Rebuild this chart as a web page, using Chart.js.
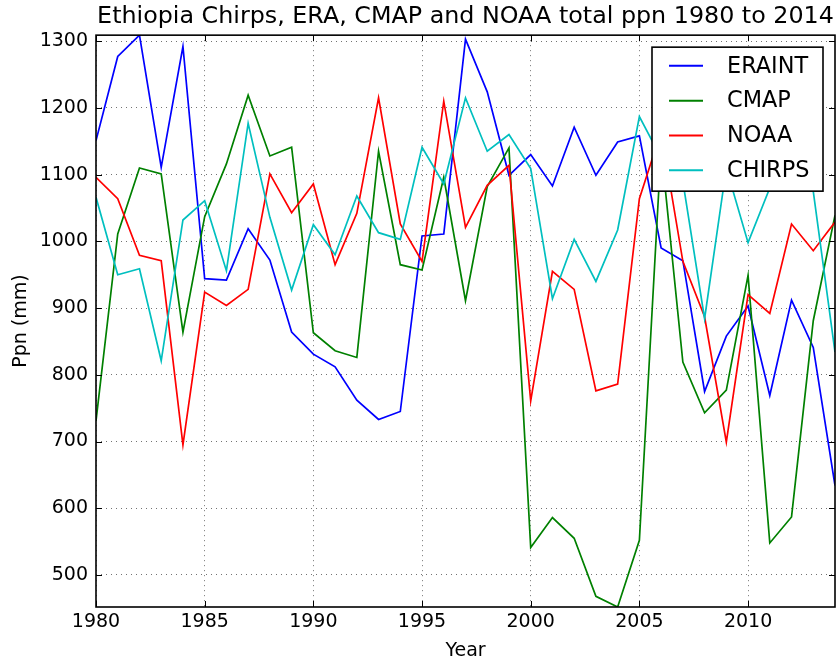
<!DOCTYPE html>
<html><head><meta charset="utf-8">
<script src="https://cdn.jsdelivr.net/npm/chart.js@4.4.0/dist/chart.umd.min.js"></script>
<style>html,body{margin:0;padding:0;background:#fff;}</style>
</head><body>
<canvas id="c" width="838" height="663"></canvas>
<script>
const years = [1980,1981,1982,1983,1984,1985,1986,1987,1988,1989,1990,1991,1992,1993,1994,1995,1996,1997,1998,1999,2000,2001,2002,2003,2004,2005,2006,2007,2008,2009,2010,2011,2012,2013,2014];
const eraint = [1151,1277,1309,1111,1292,944,942,1019,972,864,831,812,762,733,745,1008,1011,1303,1224,1099,1130,1083,1171,1099,1149,1158,990,971,775,858,903,769,912,841,634];
const cmap   = [731,1011,1110,1101,864,1037,1116,1219,1128,1141,863,836,826,1135,965,957,1096,911,1082,1140,541,586,555,468,452,552,1140,819,743,777,949,548,587,881,1039];
const noaa   = [1096,1064,979,971,695,924,904,928,1101,1043,1086,965,1042,1215,1026,970,1210,1021,1084,1114,761,955,928,776,786,1064,1165,970,887,699,920,892,1026,986,1029];
const chirps = [1066,950,959,821,1032,1061,956,1177,1036,927,1025,980,1068,1013,1003,1141,1086,1215,1135,1160,1109,914,1003,940,1017,1187,1125,1090,884,1110,998,1080,1110,1075,834];
const seriesNames = ['ERAINT','CMAP','NOAA','CHIRPS'];
const xTickValues = [1980,1985,1990,1995,2000,2005,2010];
const yTickValues = [500,600,700,800,900,1000,1100,1200,1300];
const titleText = 'Ethiopia Chirps, ERA, CMAP and NOAA total ppn 1980 to 2014';

const colors = ['rgb(0,0,255)','rgb(0,128,0)','rgb(255,0,0)','rgb(0,191,191)'];
const allVals = eraint.concat(cmap, noaa, chirps);
const yMin = Math.min(...allVals), yMax = Math.max(...allVals);
const FONT = 'DejaVu Sans';

function mk(vals){ return years.map((y,i)=>({x:y,y:vals[i]})); }
const seriesData = [eraint,cmap,noaa,chirps];
const datasets = seriesData.map((v,i)=>({
  label: seriesNames[i], data: mk(v), borderColor: colors[i], backgroundColor: colors[i],
  borderWidth: 1.7, pointRadius: 0, tension: 0, fill: false, order: 4-i
}));

const framePlugin = {
  id:'frame',
  afterDatasetsDraw(chart){
    const {ctx, chartArea:a, scales:{x,y}} = chart;
    ctx.save();
    ctx.strokeStyle='#000'; ctx.lineWidth=1;
    const tl=6;
    ctx.beginPath();
    xTickValues.forEach(v=>{const px=Math.round(x.getPixelForValue(v))+0.5;
      ctx.moveTo(px,a.bottom); ctx.lineTo(px,a.bottom-tl);
      ctx.moveTo(px,a.top); ctx.lineTo(px,a.top+tl);});
    yTickValues.forEach(v=>{const py=Math.round(y.getPixelForValue(v))+0.5;
      ctx.moveTo(a.left,py); ctx.lineTo(a.left+tl,py);
      ctx.moveTo(a.right,py); ctx.lineTo(a.right-tl,py);});
    ctx.stroke();
    ctx.lineWidth=1.6;
    ctx.strokeRect(a.left, a.top, a.right-a.left, a.bottom-a.top);
    // legend
    const w=171, h=144;
    const bx=a.right-12-w, by=a.top+12;
    ctx.fillStyle='#fff'; ctx.fillRect(bx,by,w,h);
    ctx.strokeStyle='#000'; ctx.lineWidth=1.6; ctx.strokeRect(bx,by,w,h);
    ctx.font='22.4px "'+FONT+'"'; ctx.textBaseline='middle'; ctx.textAlign='left';
    seriesNames.forEach((n,i)=>{
      const ry=by+18.7+i*34.8;
      ctx.strokeStyle=colors[i]; ctx.lineWidth=2;
      ctx.beginPath(); ctx.moveTo(bx+17,ry); ctx.lineTo(bx+51,ry); ctx.stroke();
      ctx.fillStyle='#000'; ctx.fillText(n,bx+75,ry+1);
    });
    ctx.restore();
  }
};

new Chart(document.getElementById('c'), {
  type:'line',
  data:{datasets},
  plugins:[framePlugin],
  options:{
    responsive:false, animation:false, devicePixelRatio:1,
    layout:{padding:{left:0,right:3,top:0,bottom:0}},
    plugins:{
      legend:{display:false}, tooltip:{enabled:false},
      title:{display:true, text:titleText, fullSize:false, color:'#000',
        font:{family:FONT, size:23.8, weight:'normal'}, padding:{top:3,bottom:3.6}}
    },
    scales:{
      x:{type:'linear', min:1980, max:2014,
        afterBuildTicks:s=>{s.ticks=xTickValues.map(v=>({value:v}));},
        afterFit:s=>{s.height=56;},
        ticks:{font:{family:FONT,size:19}, color:'#000', padding:4, maxRotation:0, autoSkip:false, callback:v=>String(v)},
        grid:{color:'rgba(0,0,0,0.55)', lineWidth:1, drawTicks:false},
        border:{display:false, dash:[1,4]},
        title:{display:true, text:'Year', color:'#000', font:{family:FONT,size:19}, padding:{top:0,bottom:0.6}}
      },
      y:{type:'linear', min:yMin, max:yMax,
        afterBuildTicks:s=>{s.ticks=yTickValues.map(v=>({value:v}));},
        afterFit:s=>{s.width=96;},
        ticks:{font:{family:FONT,size:19}, color:'#000', padding:8, autoSkip:false, callback:v=>String(v)},
        grid:{color:'rgba(0,0,0,0.55)', lineWidth:1, drawTicks:false},
        border:{display:false, dash:[1,4]},
        title:{display:true, text:'Ppn (mm)', color:'#000', font:{family:FONT,size:19}, padding:{top:10,bottom:0}}
      }
    }
  }
});
</script>
</body></html>
